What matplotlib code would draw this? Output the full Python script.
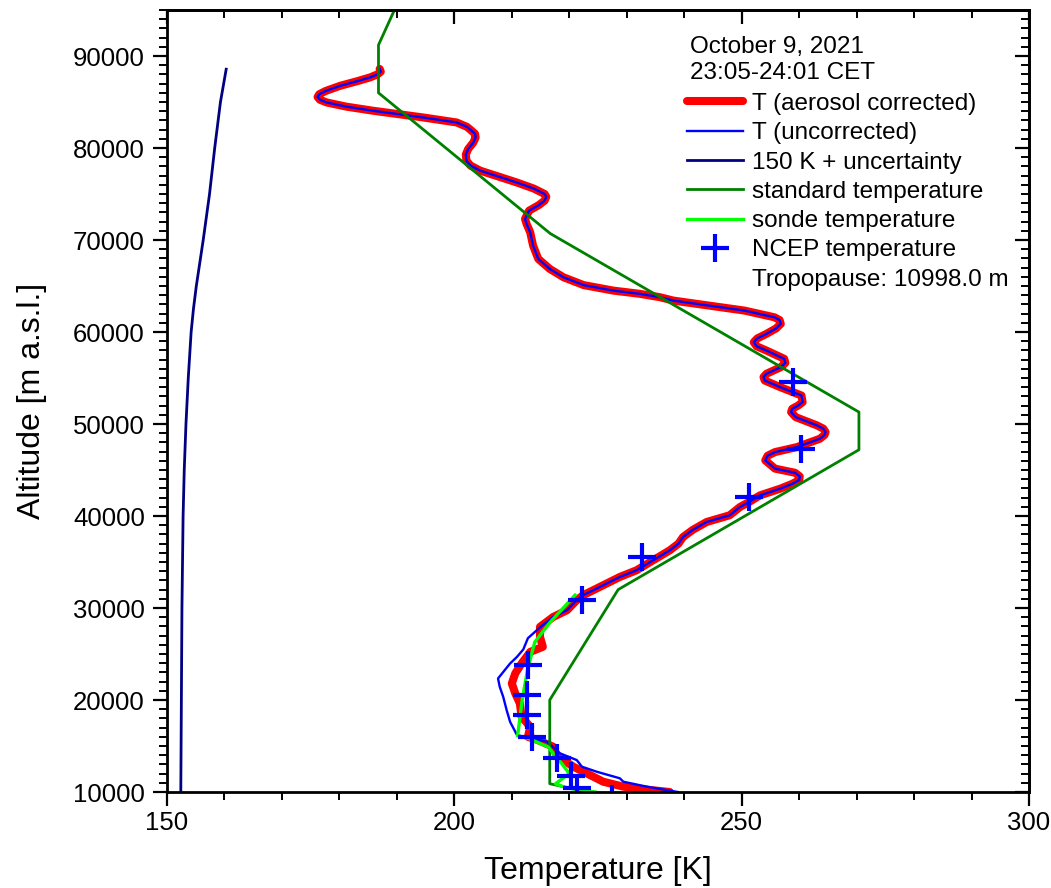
import numpy as np
import matplotlib
matplotlib.use('Agg')
import matplotlib.pyplot as plt
from matplotlib.ticker import MultipleLocator

plt.rcParams['font.family'] = ['Liberation Sans', 'DejaVu Sans']

# lidar temperature, aerosol corrected (altitude in m, temperature in K)
alt_corr = [10000, 10220, 10580, 11120, 11660, 12750, 14020, 14920, 15650, 16000,
            17090, 18180, 19630, 20720, 21800, 22890, 23970, 25230, 25780, 26860,
            27950, 29030, 29760, 30850, 31390, 32290, 33380, 34100, 35190, 36280,
            37000, 37720, 38500, 39350, 40080, 40980, 41600, 42250, 42970, 43500,
            43900, 44300, 44700, 45150, 46050, 46550, 46950, 47490, 48400, 48800,
            49120, 49500, 49850, 50750, 51300, 51660, 52000, 52380, 53100, 54010,
            54730, 55100, 55460, 56180, 56650, 57090, 57990, 58450, 58890, 59300,
            59800, 60400, 60890, 61300, 61600, 62330, 62900, 63420, 63780, 64150,
            64500, 65100, 65950, 66860, 67950, 69390, 70840, 71700, 72290, 73190,
            73800, 74280, 74700, 75010, 75600, 76270, 77540, 78100, 78620, 79300,
            79890, 80600, 81150, 81550, 81880, 82300, 82780, 83320, 84050, 84500,
            84950, 85250, 85550, 85850, 86200, 86760, 87250, 87670, 88000, 88300,
            88600]
t_corr = [237.5, 234.0, 229.4, 225.9, 224.2, 220.7, 217.8, 217.2, 214.5, 212.8,
          213.2, 211.7, 211.4, 210.6, 210.0, 210.6, 211.7, 213.2, 215.4, 214.9,
          214.9, 217.2, 219.6, 221.3, 222.4, 225.3, 228.8, 231.7, 234.6, 237.5,
          239.0, 239.8, 241.5, 243.9, 247.9, 249.7, 251.5, 253.2, 256.7, 258.8,
          260.0, 260.1, 259.3, 255.8, 254.1, 254.5, 255.8, 259.6, 263.6, 264.4,
          264.6, 264.2, 263.1, 259.4, 258.6, 258.8, 259.8, 260.6, 260.4, 256.7,
          254.0, 253.8, 254.3, 256.8, 257.6, 257.4, 254.3, 252.6, 252.1, 252.7,
          254.3, 256.0, 256.8, 256.6, 255.7, 250.5, 244.0, 238.1, 235.8, 232.3,
          227.7, 222.5, 219.0, 216.6, 214.6, 213.7, 213.2, 212.6, 212.3, 213.0,
          214.7, 215.7, 216.0, 215.7, 213.8, 210.8, 204.5, 202.8, 202.1, 202.0,
          202.4, 203.3, 203.7, 203.6, 203.0, 202.2, 200.4, 194.6, 185.9, 181.2,
          177.8, 176.6, 176.2, 176.5, 177.6, 180.1, 183.0, 185.3, 186.6, 187.2,
          187.0]

# uncorrected temperature below 30 km (above it equals the corrected profile)
alt_unc_low = [10000, 10580, 11120, 11490, 12200, 12750, 13470, 14200, 15460, 16190,
               17630, 18900, 20350, 21430, 22340, 23970, 24690, 25500, 26720, 27950,
               29030]
t_unc_low = [238.9, 233.5, 229.4, 228.8, 224.8, 222.2, 221.3, 218.4, 216.1, 210.9,
             209.7, 209.1, 208.5, 207.9, 207.6, 209.7, 210.9, 212.0, 212.8, 215.0,
             217.2]

# 150 K + uncertainty
alt_unc = [10000, 20000, 30000, 40000, 45000, 50000, 55000, 60000, 62500, 65000,
           67500, 70000, 75000, 80000, 85000, 88570]
t_unc = [152.4, 152.5, 152.6, 152.8, 153.0, 153.3, 153.7, 154.2, 154.6, 155.1,
         155.7, 156.3, 157.4, 158.3, 159.3, 160.3]

# standard atmosphere
alt_std = [10000, 10900, 20000, 32000, 47200, 51300, 70700, 86000, 91200, 96000]
t_std = [223.3, 216.6, 216.6, 228.5, 270.4, 270.4, 216.7, 186.8, 186.8, 190.3]

# radiosonde
alt_sonde = [10000, 10450, 10900, 12000, 13000, 14900, 15800, 16100, 18000, 20000,
             23500, 26300, 28400, 31400]
t_sonde = [224.5, 219.5, 217.6, 220.0, 218.8, 216.3, 213.0, 211.0, 211.4, 211.8,
           212.8, 214.0, 216.6, 221.0]

# NCEP
alt_ncep = [9270, 10400, 11750, 13750, 16000, 18360, 20530, 23790, 30850, 35500,
            42060, 47320, 54550]
t_ncep = [227.4, 221.3, 220.3, 217.8, 213.5, 212.6, 212.6, 212.8, 222.2, 232.7,
          251.2, 260.4, 259.0]

alt_uncorr = alt_unc_low + [a for a in alt_corr if a > 29030]
t_uncorr = t_unc_low + [t for a, t in zip(alt_corr, t_corr) if a > 29030]

fig = plt.figure(figsize=(10.51, 8.88), dpi=100)
ax = fig.add_axes([0.1589, 0.1081, 0.8202, 0.8806])

ax.plot(t_corr, alt_corr, color='#ff0000', lw=5.8, solid_joinstyle='round',
        solid_capstyle='round', label='T (aerosol corrected)')
ax.plot(t_uncorr, alt_uncorr, color='#0000ff', lw=1.7, label='T (uncorrected)')
ax.plot(t_unc, alt_unc, color='#000080', lw=2.0, label='150 K + uncertainty')
ax.plot(t_std, alt_std, color='#008000', lw=2.0, label='standard temperature')
ax.plot(t_sonde, alt_sonde, color='#00ff00', lw=2.4, label='sonde temperature')
ax.plot(t_ncep, alt_ncep, ls='none', marker='+', ms=20, mew=3, color='#0000ff',
        label='NCEP temperature')
ax.plot([], [], color='none', label='Tropopause: 10998.0 m')

ax.set_xlim(150, 300)
ax.set_ylim(10000, 95000)
ax.xaxis.set_major_locator(MultipleLocator(50))
ax.xaxis.set_minor_locator(MultipleLocator(10))
ax.yaxis.set_major_locator(MultipleLocator(10000))
ax.yaxis.set_minor_locator(MultipleLocator(1000))
ax.tick_params(which='major', direction='out', length=10, width=1.6, labelsize=18.5, pad=4)
ax.tick_params(which='minor', direction='out', length=5.5, width=1.4)
ax.tick_params(axis='y', which='major', pad=6)

# mirrored axes with inward ticks
top = ax.secondary_xaxis('top')
top.xaxis.set_major_locator(MultipleLocator(50))
top.xaxis.set_minor_locator(MultipleLocator(10))
top.tick_params(which='major', direction='in', length=10, width=1.6, labeltop=False)
top.tick_params(which='minor', direction='in', length=5.5, width=1.4)
right = ax.secondary_yaxis('right')
right.yaxis.set_major_locator(MultipleLocator(10000))
right.yaxis.set_minor_locator(MultipleLocator(1000))
right.tick_params(which='major', direction='in', length=10, width=1.6, labelright=False)
right.tick_params(which='minor', direction='in', length=5.5, width=1.4)
for sp in list(ax.spines.values()) + [top.spines['top'], right.spines['right']]:
    sp.set_linewidth(2)

ax.set_xlabel('Temperature [K]', fontsize=23, labelpad=15)
ax.set_ylabel('Altitude [m a.s.l.]', fontsize=23, labelpad=19)

ax.text(0.607, 0.953, 'October 9, 2021', transform=ax.transAxes, fontsize=17.5,
        va='center', ha='left')
ax.text(0.607, 0.919, '23:05-24:01 CET', transform=ax.transAxes, fontsize=17.5,
        va='center', ha='left')
ax.legend(loc='upper left', bbox_to_anchor=(0.603, 0.894), frameon=False, fontsize=17.5,
          handlelength=2.3, handletextpad=0.4, labelspacing=0.3, borderpad=0,
          borderaxespad=0)

fig.savefig('out.png', dpi=100)
